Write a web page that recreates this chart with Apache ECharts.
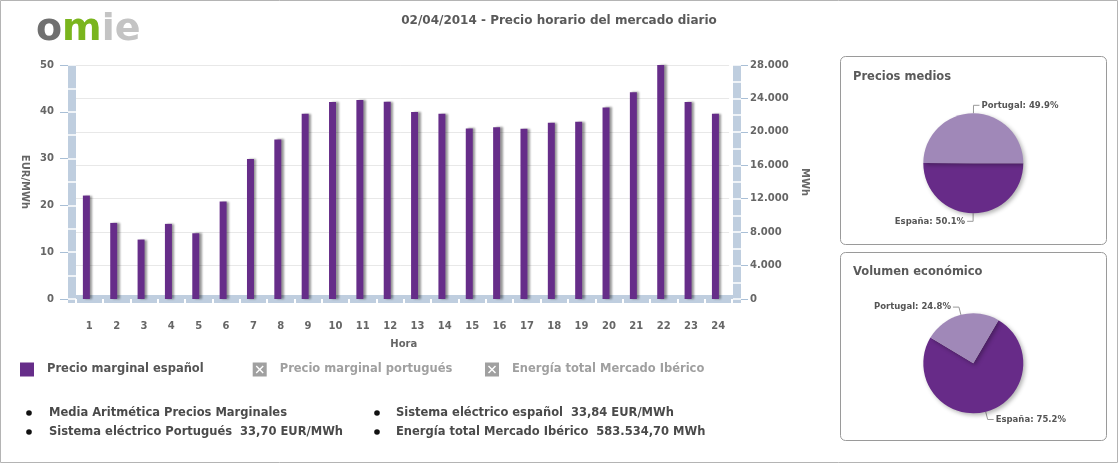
<!DOCTYPE html>
<html><head><meta charset="utf-8">
<script src="https://cdn.jsdelivr.net/npm/echarts@6/dist/echarts.min.js"></script>
<style>html,body{margin:0;padding:0;background:#fff}#c{width:1118px;height:463px}</style>
</head><body><div id="c"></div>
<script>
const hours = ['1','2','3','4','5','6','7','8','9','10','11','12','13','14','15','16','17','18','19','20','21','22','23','24'];
const precioEspanol = [22.10, 16.26, 12.70, 16.05, 14.05, 20.83, 29.90, 34.10, 39.60, 42.10, 42.50, 42.15,
                       39.94, 39.60, 36.45, 36.70, 36.40, 37.66, 37.87, 40.94, 44.20, 50.00, 42.10, 39.60];
const precioPortugues = [];   // hidden series (deselected in legend)
const energiaTotal = [];      // hidden series (deselected in legend)
const priceAxis = {min: 0, max: 50, interval: 10, minorInterval: 5};
const energyAxis = {min: 0, max: 28000, interval: 4000, minorInterval: 2000};
const pieCountries = ['España', 'Portugal'];
const preciosMedios = [33.84, 33.70];
const volumenEconomico = [75.2, 24.8];
const chartTitle = '02/04/2014 - Precio horario del mercado diario';
const summaryLabels = ['Media Aritmética Precios Marginales', 'Sistema eléctrico Portugués', 'Sistema eléctrico español', 'Energía total Mercado Ibérico'];
const summaryValues = ['', '33,70 EUR/MWh', '33,84 EUR/MWh', '583.534,70 MWh'];

const FONT = '"DejaVu Sans", Verdana, sans-serif';
const barBlue = '#bfcedf';
const tickBlue = '#a9bfd6';
const txt = '#5a5a5a';
const esColor = '#672b88';
const ptColor = '#a088b8';
const xIcon = 'path://M0,0L14,0L14,14L0,14Z M6,7L3,10L4,11L7,8L10,11L11,10L8,7L11,4L10,3L7,6L4,3L3,4Z';

const lblStyle = {fontFamily: FONT, fontSize: 10, fontWeight: 'bold', color: '#666'};
const thousands = v => String(v).replace(/\B(?=(\d{3})+(?!\d))/g, '.');

function pieSeries(name, values, center, startAngle) {
  return {
    type: 'pie', name: name, center: center, radius: 50, startAngle: startAngle,
    percentPrecision: 1, animation: false,
    data: pieCountries.map((n, i) => ({name: n, value: values[i], itemStyle: {color: i === 0 ? esColor : ptColor}})),
    itemStyle: {shadowBlur: 4, shadowOffsetX: 2, shadowOffsetY: 2, shadowColor: 'rgba(0,0,0,0.3)'},
    label: {formatter: '{b}: {d}%', fontFamily: FONT, fontSize: 8.5, fontWeight: 'bold', color: '#555', distanceToLabelLine: 2},
    labelLine: {length: 8, length2: 6, lineStyle: {color: '#999', width: 1}},
    emphasis: {disabled: true}
  };
}

const graphics = [
  {type: 'rect', shape: {x: 0.5, y: 0.5, width: 1117, height: 462}, style: {fill: 'none', stroke: '#b4b4b4', lineWidth: 1}},
  {type: 'rect', shape: {x: 840.5, y: 56.5, width: 266, height: 188, r: 5}, style: {fill: 'none', stroke: '#9a9a9a', lineWidth: 1}},
  {type: 'rect', shape: {x: 840.5, y: 252.5, width: 266, height: 188, r: 5}, style: {fill: 'none', stroke: '#9a9a9a', lineWidth: 1}},
  {type: 'text', x: 36, y: 30.5, style: {text: '{a|o}{b|m}{c|ie}', verticalAlign: 'middle',
     rich: {a: {fill: '#707070', fontSize: 38, fontWeight: 'bold', fontFamily: FONT},
            b: {fill: '#7ab51d', fontSize: 38, fontWeight: 'bold', fontFamily: FONT},
            c: {fill: '#c4c4c4', fontSize: 38, fontWeight: 'bold', fontFamily: FONT}}}},
  {type: 'text', x: 559, y: 21, style: {text: chartTitle, align: 'center', verticalAlign: 'middle', fill: txt, font: 'bold 12px ' + FONT}},
  {type: 'text', x: 853, y: 77, style: {text: 'Precios medios', verticalAlign: 'middle', fill: txt, font: 'bold 11.5px ' + FONT}},
  {type: 'text', x: 853, y: 272, style: {text: 'Volumen económico', verticalAlign: 'middle', fill: txt, font: 'bold 11.5px ' + FONT}}
];
const sumPos = [[29, 49, 413], [29, 49, 432], [377, 396, 413], [377, 396, 432]];
summaryLabels.forEach((lab, i) => {
  const p = sumPos[i];
  graphics.push({type: 'circle', shape: {cx: p[0], cy: p[2], r: 2.8}, style: {fill: '#111'}});
  graphics.push({type: 'text', x: p[1], y: p[2], style: {text: summaryValues[i] ? lab + '  ' + summaryValues[i] : lab,
     verticalAlign: 'middle', fill: '#4a4a4a', font: 'bold 11.5px ' + FONT}});
});

const legendBase = {orient: 'horizontal', top: 362.5, padding: 0, itemWidth: 14, itemHeight: 14,
  inactiveColor: '#a0a0a0', inactiveBorderColor: '#a0a0a0',
  textStyle: {fontFamily: FONT, fontSize: 11.5, fontWeight: 'bold', color: '#555', padding: [0, 0, 0, 8]}};

const barLine = {color: barBlue, width: 8, cap: 'butt'};
const option = {
  animation: false,
  backgroundColor: '#fff',
  grid: [
    {left: 72.7, top: 65, width: 656.4, height: 234, outerBoundsMode: 'none'},
    {left: 75.6, top: 65, width: 656.4, height: 234, outerBoundsMode: 'none'},
    {left: 68, top: 65, width: 673, height: 234, outerBoundsMode: 'none'}
  ],
  legend: [
    Object.assign({}, legendBase, {left: 20, selectedMode: false, data: [{name: 'Precio marginal español', icon: 'rect'}]}),
    Object.assign({}, legendBase, {left: 252.7, data: [{name: 'Precio marginal portugués', icon: xIcon}], selected: {'Precio marginal portugués': false}}),
    Object.assign({}, legendBase, {left: 485, data: [{name: 'Energía total Mercado Ibérico', icon: xIcon}], selected: {'Energía total Mercado Ibérico': false}})
  ],
  xAxis: [
    {gridIndex: 0, type: 'category', data: hours, position: 'bottom', show: false},
    {gridIndex: 1, type: 'category', data: hours, position: 'bottom', axisLine: {show: false}, axisTick: {show: false},
     axisLabel: Object.assign({margin: 22}, lblStyle), splitLine: {show: false},
     name: 'Hora', nameLocation: 'middle', nameGap: 40, nameTextStyle: lblStyle},
    {gridIndex: 1, type: 'category', data: hours, position: 'bottom', zlevel: 1, z: 5, axisLine: {show: false}, axisLabel: {show: false}, splitLine: {show: false},
     axisTick: {show: true, interval: 0, length: 8, lineStyle: {color: '#fff', width: 2}}},
    {gridIndex: 2, type: 'category', data: hours, position: 'bottom', z: 1, offset: 4, axisLabel: {show: false}, axisTick: {show: false}, splitLine: {show: false},
     axisLine: {show: true, lineStyle: barLine}}
  ],
  yAxis: [
    {gridIndex: 0, type: 'value', min: priceAxis.min, max: priceAxis.max, interval: priceAxis.interval, position: 'left', offset: 0.7, z: 1,
     axisLine: {show: true, lineStyle: barLine}, axisTick: {show: false}, axisLabel: {show: false}, splitLine: {show: false}},
    {gridIndex: 0, type: 'value', min: priceAxis.min, max: priceAxis.max, interval: priceAxis.minorInterval, position: 'left', offset: 4.7, zlevel: 1, z: 5,
     axisLine: {show: false}, axisLabel: {show: false}, splitLine: {show: false},
     axisTick: {show: true, inside: true, length: 8, lineStyle: {color: '#fff', width: 1.5}}},
    {gridIndex: 0, type: 'value', min: priceAxis.min, max: priceAxis.max, interval: priceAxis.interval, position: 'left', offset: 4.7, z: 2,
     axisLine: {show: false}, splitLine: {show: false},
     axisTick: {show: true, length: 8, lineStyle: {color: tickBlue, width: 1}},
     axisLabel: Object.assign({margin: 14}, lblStyle),
     name: 'EUR/MWh', nameLocation: 'middle', nameRotate: -90, nameGap: 30, nameTextStyle: lblStyle},
    {gridIndex: 0, type: 'value', min: energyAxis.min, max: energyAxis.max, interval: energyAxis.interval, position: 'right', offset: 7.9, z: 1,
     axisLine: {show: true, lineStyle: barLine}, axisTick: {show: false}, axisLabel: {show: false},
     splitLine: {show: true, lineStyle: {color: '#e8e8e8', width: 1}}},
    {gridIndex: 0, type: 'value', min: energyAxis.min, max: energyAxis.max, interval: energyAxis.minorInterval, position: 'right', offset: 11.9, zlevel: 1, z: 5,
     axisLine: {show: false}, axisLabel: {show: false}, splitLine: {show: false},
     axisTick: {show: true, inside: true, length: 8, lineStyle: {color: '#fff', width: 1.5}}},
    {gridIndex: 0, type: 'value', min: energyAxis.min, max: energyAxis.max, interval: energyAxis.interval, position: 'right', offset: 11.9, z: 2,
     axisLine: {show: false}, splitLine: {show: false},
     axisTick: {show: true, length: 7, lineStyle: {color: tickBlue, width: 1}},
     axisLabel: Object.assign({margin: 9, formatter: thousands}, lblStyle),
     name: 'MWh', nameLocation: 'middle', nameRotate: -90, nameGap: 55, nameTextStyle: lblStyle},
    {gridIndex: 1, type: 'value', show: false},
    {gridIndex: 2, type: 'value', show: false}
  ],
  series: [
    {type: 'bar', name: 'Precio marginal español', xAxisIndex: 0, yAxisIndex: 0, data: precioEspanol, barWidth: 7,
     itemStyle: {color: '#662d89', shadowColor: 'rgba(0,0,0,0.4)', shadowBlur: 2, shadowOffsetX: 2.5}, emphasis: {disabled: true}},
    {type: 'bar', name: 'Precio marginal portugués', xAxisIndex: 0, yAxisIndex: 0, data: precioPortugues, barWidth: 7, itemStyle: {color: ptColor}},
    {type: 'line', name: 'Energía total Mercado Ibérico', xAxisIndex: 0, yAxisIndex: 3, data: energiaTotal, itemStyle: {color: '#8fb2d6'}},
    pieSeries('Precios medios', preciosMedios, [973.3, 163.3], 0),
    pieSeries('Volumen económico', volumenEconomico, [973.3, 363.3], 59.7)
  ],
  graphic: {elements: graphics}
};
const chart = echarts.init(document.getElementById('c'));
chart.setOption(option);
</script></body></html>
